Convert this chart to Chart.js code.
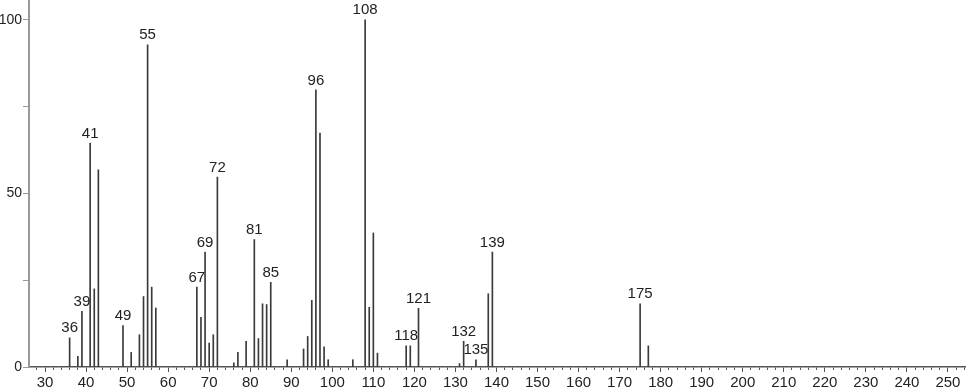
<!DOCTYPE html>
<html><head><meta charset="utf-8">
<script src="https://cdn.jsdelivr.net/npm/chart.js@4"></script>
<style>html,body{margin:0;padding:0;background:#fff;overflow:hidden}canvas{display:block}</style>
</head><body>
<canvas id="c" width="966" height="389"></canvas>
<script>
// m/z values and relative intensities
const mz = [36,38,39,41,42,43,49,51,53,54,55,56,57,67,68,69,70,71,72,76,77,79,81,82,83,84,85,89,93,94,95,96,97,98,99,105,108,109,110,111,118,119,121,131,132,135,138,139,175,177];
const intensity = [8.4,3.1,16.0,64.5,22.5,56.8,11.9,4.2,9.3,20.3,92.8,23.0,17.0,23.0,14.3,33.1,6.9,9.3,54.7,1.2,4.2,7.4,36.7,8.2,18.2,18.0,24.4,2.1,5.2,8.8,19.2,79.8,67.4,5.8,2.1,2.1,100,17.2,38.6,4.0,6.1,6.1,16.9,1.0,7.4,2.1,21.1,33.1,18.2,6.1];
const labeledPeaks = [36,39,41,49,55,67,69,72,81,85,96,108,118,121,132,135,139,175];
const xMajorTicks = [30,40,50,60,70,80,90,100,110,120,130,140,150,160,170,180,190,200,210,220,230,240,250];
const xMinorTicks = Array.from({length:114}, (_, i) => 28 + i * 2);
const yTicks = [0,25,50,75,100];
const yTickLabels = {0:'0', 50:'50', 100:'100'};

const X_MIN = 26.1, X_MAX = 254.4, Y_MAX = 105.7;
const FONT = '"Liberation Sans Narrow", "Liberation Sans", Arial, sans-serif';

const peakLabels = {
  id: 'peakLabels',
  afterDatasetsDraw(chart) {
    const ctx = chart.ctx;
    const meta = chart.getDatasetMeta(0);
    ctx.save();
    ctx.font = '15px ' + FONT;
    ctx.fillStyle = '#222';
    ctx.textAlign = 'center';
    ctx.textBaseline = 'bottom';
    labeledPeaks.forEach(m => {
      const i = mz.indexOf(m);
      const el = meta.data[i];
      ctx.fillText(String(m), el.x, el.y - 2);
    });
    ctx.restore();
  }
};

new Chart(document.getElementById('c'), {
  type: 'bar',
  data: {
    datasets: [{
      data: mz.map((m, i) => ({x: m, y: intensity[i]})),
      backgroundColor: '#3a3a3a',
      borderWidth: 0,
      barThickness: 1,
      xAxisID: 'x',
      yAxisID: 'y'
    }]
  },
  options: {
    responsive: false,
    animation: false,
    layout: {padding: 0},
    plugins: {legend: {display: false}, tooltip: {enabled: false}},
    scales: {
      x: {
        type: 'linear', position: 'bottom', weight: 0, offset: false,
        min: X_MIN, max: X_MAX,
        afterBuildTicks: s => { s.ticks = xMinorTicks.map(v => ({value: v})); },
        afterFit: s => { s.height = 3; s.paddingLeft = 0; s.paddingRight = 0; },
        grid: {offset: false, drawOnChartArea: false, drawTicks: true, tickLength: 3, tickColor: '#555', tickWidth: 1},
        border: {display: true, color: '#555', width: 1.5},
        ticks: {display: false}
      },
      xMajor: {
        type: 'linear', position: 'bottom', weight: 1, offset: false,
        min: X_MIN, max: X_MAX,
        afterBuildTicks: s => { s.ticks = xMajorTicks.map(v => ({value: v})); },
        afterFit: s => { s.height = 19; s.paddingLeft = 0; s.paddingRight = 0; },
        grid: {offset: false, drawOnChartArea: false, drawTicks: true, tickLength: 2, tickColor: '#555', tickWidth: 1},
        border: {display: false},
        ticks: {padding: 2, autoSkip: false, maxRotation: 0, color: '#222', font: {family: FONT, size: 15}}
      },
      y: {
        min: 0, max: Y_MAX,
        afterBuildTicks: s => { s.ticks = yTicks.map(v => ({value: v})); },
        afterFit: s => { s.width = 29; s.paddingTop = 0; s.paddingBottom = 0; },
        grid: {drawOnChartArea: false, drawTicks: true, tickLength: 6, tickColor: '#999', tickWidth: 1},
        border: {display: true, color: '#999', width: 2},
        ticks: {padding: 1, color: '#222', font: {family: FONT, size: 14}, callback: v => yTickLabels[v] ?? ''}
      }
    }
  },
  plugins: [peakLabels]
});
</script>
</body></html>
